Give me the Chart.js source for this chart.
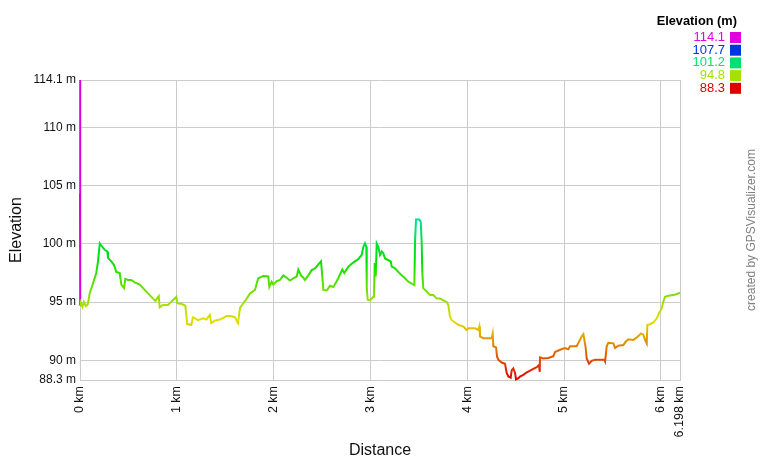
<!DOCTYPE html>
<html>
<head>
<meta charset="utf-8">
<script src="https://cdn.jsdelivr.net/npm/chart.js@4"></script>
<style>
html,body{margin:0;padding:0;background:#fff;}
#wrap{width:760px;height:460px;position:relative;}
</style>
</head>
<body>
<div id="wrap"><canvas id="c" width="760" height="460"></canvas></div>
<script>
const distanceKm = [0,0,0.004,0.01,0.025,0.04,0.06,0.08,0.10,0.134,0.168,0.186,0.204,0.227,0.255,0.282,0.289,0.323,0.351,0.375,0.410,0.427,0.455,0.468,0.496,0.530,0.565,0.617,0.651,0.685,0.720,0.754,0.778,0.813,0.823,0.857,0.909,0.943,0.978,0.995,1.005,1.046,1.088,1.098,1.108,1.150,1.167,1.219,1.271,1.305,1.340,1.356,1.392,1.443,1.495,1.511,1.550,1.601,1.632,1.653,1.687,1.722,1.756,1.808,1.825,1.842,1.894,1.945,1.956,1.980,1.997,2.032,2.066,2.100,2.135,2.169,2.204,2.239,2.255,2.283,2.307,2.324,2.358,2.394,2.428,2.462,2.490,2.503,2.514,2.549,2.583,2.617,2.668,2.710,2.730,2.772,2.823,2.875,2.910,2.927,2.944,2.958,2.962,2.972,2.996,3.030,3.037,3.045,3.055,3.065,3.082,3.099,3.117,3.133,3.151,3.185,3.210,3.220,3.254,3.288,3.323,3.357,3.392,3.427,3.454,3.461,3.471,3.505,3.520,3.530,3.536,3.546,3.582,3.616,3.650,3.685,3.719,3.753,3.788,3.805,3.822,3.840,3.874,3.908,3.960,3.995,4.011,4.046,4.081,4.115,4.125,4.132,4.166,4.218,4.253,4.263,4.270,4.298,4.308,4.321,4.356,4.390,4.408,4.425,4.449,4.460,4.476,4.494,4.504,4.528,4.545,4.579,4.615,4.649,4.683,4.718,4.742,4.749,4.752,4.786,4.838,4.890,4.907,4.959,5.010,5.044,5.062,5.131,5.155,5.183,5.200,5.210,5.224,5.234,5.258,5.286,5.320,5.372,5.416,5.424,5.441,5.458,5.510,5.527,5.561,5.613,5.637,5.664,5.716,5.751,5.796,5.819,5.837,5.854,5.861,5.888,5.923,5.958,5.981,6.009,6.026,6.043,6.078,6.130,6.165,6.198];
const elevationM = [104.3,114.1,94.7,94.9,94.6,95.0,94.65,94.8,95.75,96.6,97.5,98.5,100.05,99.8,99.5,99.35,98.8,98.5,98.2,97.6,97.5,96.5,96.2,97.0,96.9,96.9,96.7,96.5,96.2,95.9,95.6,95.3,95.1,95.5,94.55,94.75,94.75,95.03,95.3,95.45,94.9,94.85,94.7,93.9,93.1,93.05,93.7,93.45,93.6,93.5,93.9,93.2,93.4,93.5,93.7,93.8,93.8,93.7,93.2,94.5,94.9,95.3,95.75,96.05,96.6,97.05,97.25,97.2,96.3,96.75,96.5,96.8,96.9,97.3,97.1,96.85,97.05,97.2,97.8,97.3,97.1,96.9,97.3,97.75,97.9,98.25,98.5,97.2,96.05,96.0,96.4,96.3,97.05,97.8,97.5,98.05,98.4,98.7,99.05,99.75,100.05,99.75,96.3,95.2,95.15,95.45,95.6,98.35,97.2,100.05,99.75,99.05,99.35,99.2,98.75,98.6,98.5,98.05,97.9,97.6,97.3,97.05,96.75,96.6,96.45,100.2,102.1,102.1,101.9,100.05,97.6,96.2,95.9,95.6,95.6,95.3,95.3,95.15,95.0,94.75,93.75,93.45,93.25,93.05,92.9,92.6,92.75,92.75,92.75,92.6,92.9,92.05,91.9,91.9,91.9,92.3,91.2,91.1,90.3,90.05,89.8,89.7,88.9,88.6,88.5,89.15,89.3,88.9,88.35,88.45,88.6,88.75,88.95,89.1,89.25,89.4,89.6,89.0,90.25,90.15,90.2,90.35,90.7,90.9,91.05,90.95,91.2,91.2,91.6,92.05,92.25,91.75,91.05,90.15,89.7,89.95,90.05,90.05,90.05,89.9,91.2,91.5,91.45,91.05,91.25,91.3,91.6,91.8,91.75,91.95,92.3,92.2,91.75,91.45,93.05,93.1,93.25,93.6,94.05,94.45,95.05,95.45,95.55,95.6,95.7,95.8];
const xTicks = [0,1,2,3,4,5,6,6.198];
const yTicks = [88.3,90,95,100,105,110,114.1];
const legendValues = [114.1,107.7,101.2,94.8,88.3];
const yMin = 88.3, yMax = 114.1, xMax = 6.198;

const FONT = '"Liberation Sans", Arial, sans-serif';

function hsvColor(h) {
  const v = 224;
  const seg = Math.floor(h / 60) % 6;
  const f = h / 60 - Math.floor(h / 60);
  const p = 0, q = Math.round(v * (1 - f)), t = Math.round(v * f);
  let r, g, b;
  switch (seg) {
    case 0: r = v; g = t; b = p; break;
    case 1: r = q; g = v; b = p; break;
    case 2: r = p; g = v; b = t; break;
    case 3: r = p; g = q; b = v; break;
    case 4: r = t; g = p; b = v; break;
    default: r = v; g = p; b = q; break;
  }
  if (h >= 300) { r = v; g = 0; b = v; }
  return `rgb(${r},${g},${b})`;
}
function colorForElev(e) {
  const f = Math.max(0, Math.min(1, (e - yMin) / (yMax - yMin)));
  return hsvColor(f * 300);
}

let gradCache = null;
function lineGradient(context) {
  const chart = context.chart;
  const area = chart.chartArea;
  if (!area) return '#00e070';
  const ys = chart.scales.y;
  const top = ys.getPixelForValue(yMax), bottom = ys.getPixelForValue(yMin);
  const key = top + ':' + bottom;
  if (gradCache && gradCache.key === key) return gradCache.g;
  const g = chart.ctx.createLinearGradient(0, bottom, 0, top);
  for (let i = 0; i <= 30; i++) {
    g.addColorStop(i / 30, hsvColor(i * 10));
  }
  gradCache = { key, g };
  return g;
}

const extras = {
  id: 'extras',
  afterDraw(chart) {
    const c = chart.ctx;
    c.save();
    c.textBaseline = 'middle';
    c.textAlign = 'right';
    c.fillStyle = '#000';
    c.font = 'bold 12.8px ' + FONT;
    c.fillText('Elevation (m)', 737, 21);
    c.font = '13px ' + FONT;
    legendValues.forEach((v, i) => {
      const y = 37.5 + i * 12.7;
      const col = colorForElev(v);
      c.fillStyle = col;
      c.fillText(v.toFixed(1), 725, y);
      c.fillRect(730, y - 5.5, 11, 11);
    });
    c.translate(752, 230);
    c.rotate(-Math.PI / 2);
    c.textAlign = 'center';
    c.fillStyle = '#808080';
    c.font = '12px ' + FONT;
    c.fillText('created by GPSVisualizer.com', 0, 0);
    c.restore();
  }
};

new Chart(document.getElementById('c'), {
  type: 'line',
  data: {
    datasets: [{
      data: distanceKm.map((d, i) => ({ x: d, y: elevationM[i] })),
      borderColor: lineGradient,
      segment: {
        borderColor: (ctx) => (ctx.p0DataIndex <= 1 ? colorForElev(yMax) : undefined)
      },
      borderWidth: 2,
      pointRadius: 0,
      tension: 0,
      fill: false,
      clip: 3
    }]
  },
  options: {
    responsive: false,
    animation: false,
    events: [],
    layout: { padding: { left: 0, top: 80, right: 80, bottom: 0 } },
    plugins: { legend: { display: false }, tooltip: { enabled: false } },
    scales: {
      x: {
        type: 'linear',
        min: 0, max: xMax,
        afterBuildTicks: (s) => { s.ticks = xTicks.map(v => ({ value: v })); },
        afterFit: (s) => { s.height = 80; },
        ticks: {
          autoSkip: false, maxRotation: 90, minRotation: 90, padding: 6,
          color: '#111', font: { family: FONT, size: 12.5 },
          callback: (v) => v + ' km'
        },
        grid: { color: '#cccccc', lineWidth: 1, drawTicks: false },
        border: { color: '#cccccc' },
        title: { display: true, text: 'Distance', color: '#111', font: { family: FONT, size: 16 }, padding: { top: 0, bottom: 0 } }
      },
      y: {
        type: 'linear',
        min: yMin, max: yMax,
        afterBuildTicks: (s) => { s.ticks = yTicks.map(v => ({ value: v })); },
        afterFit: (s) => { s.width = 80; },
        ticks: {
          padding: 4, color: '#111', font: { family: FONT, size: 12 },
          callback: (v) => v + ' m'
        },
        grid: { color: '#cccccc', lineWidth: 1, drawTicks: false },
        border: { color: '#cccccc' },
        title: { display: true, text: 'Elevation', color: '#111', font: { family: FONT, size: 16 }, padding: { top: 7, bottom: 5 } }
      }
    }
  },
  plugins: [extras]
});
</script>
</body>
</html>
